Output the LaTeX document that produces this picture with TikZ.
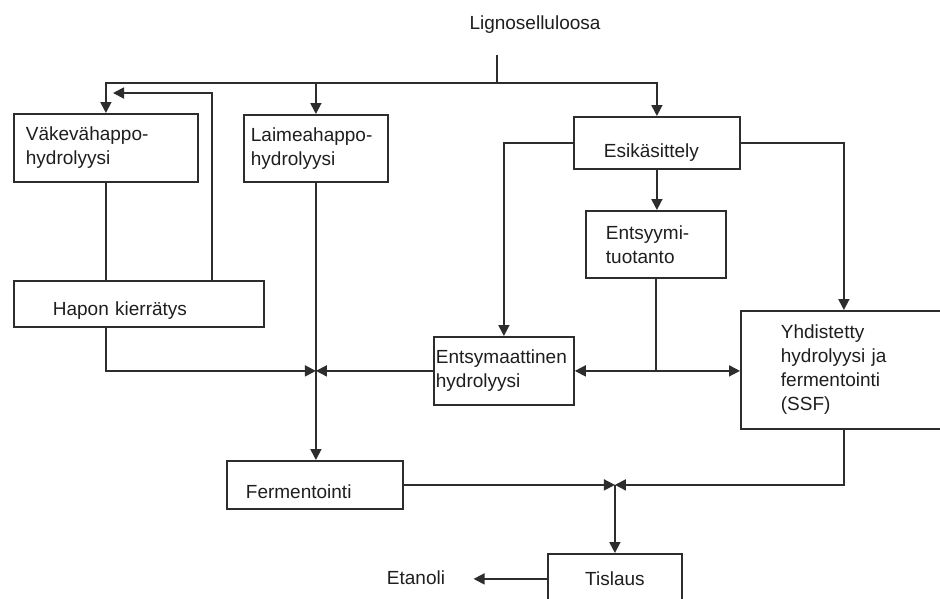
\documentclass[tikz,border=0pt]{standalone}
\usepackage{fontspec}
\setmainfont{Liberation Sans}
\usetikzlibrary{arrows.meta,positioning,calc}
\definecolor{linecolor}{RGB}{45,45,45}
\definecolor{textcolor}{RGB}{30,30,30}
\tikzset{
procbox/.style={draw=linecolor, line width=1.8pt, anchor=north west, align=left, inner sep=0pt, text=textcolor},
link/.style={draw=linecolor, line width=1.8pt},
flow/.style={link, -{Triangle[length=11pt,width=11pt]}}
}
\begin{document}
\begin{tikzpicture}[x=1pt,y=-1pt,font=\fontsize{19}{24}\selectfont]
\useasboundingbox (0,0) rectangle (940,598);

\node[text=textcolor] (lig) at (535,25) {Lignoselluloosa};
\node[procbox, minimum width=184, minimum height=68, text width=160] (vah) at (13,113) {Väkevähappo-\\hydrolyysi};
\node[procbox, minimum width=144, minimum height=67, text width=130] (lah) at (243,114) {Laimeahappo-\\hydrolyysi};
\node[procbox, minimum width=166, minimum height=52, text width=142, text height=34pt, text depth=4pt] (esi) at (573,116) {\hspace*{18pt}Esikäsittely};
\node[procbox, minimum width=140, minimum height=67, text width=100] (ents) at (585,210) {Entsyymi-\\tuotanto};
\node[procbox, minimum width=250, minimum height=46, text width=172, text height=28pt, text depth=4pt] (hap) at (13,280) {Hapon kierrätys};
\node[procbox, minimum width=140, minimum height=68, text width=136] (enz) at (433,336) {Entsymaattinen\\hydrolyysi};
\node[procbox, minimum width=206, minimum height=118, text width=126] (yhd) at (740,310) {Yhdistetty\\hydrolyysi ja\\fermentointi\\(SSF)};
\node[procbox, minimum width=176, minimum height=48, text width=138, text height=28pt, text depth=0pt] (fer) at (226,460) {Fermentointi};
\node[procbox, minimum width=134, minimum height=50] (tis) at (547,553) {Tislaus};
\node[text=textcolor] (eta) at (416,578) {Etanoli};

\coordinate (split) at (497,55);
\coordinate (bus) at (497,83);
\coordinate (ret) at (113,93);
\coordinate (j1) at (lah.south |- enz.west);
\coordinate (j2) at (ents.south |- enz.east);
\coordinate (j3) at (tis.north |- fer.east);
\coordinate (out) at ($(eta.east)+(25,0)$);

\draw[link] (split) -- (bus);
\draw[flow] (bus) -| (vah.north);
\draw[flow] (bus) -| (lah.north);
\draw[flow] (bus) -| (esi.north);
\draw[flow] (hap.north west) ++(199,0) |- (ret);
\draw[link] (vah.south) -- (vah.south |- hap.north);
\draw[flow] (vah.south |- hap.south) |- (j1);
\draw[flow] (enz.west) -- (j1);
\draw[flow] (lah.south) -- (lah.south |- fer.north);
\draw[flow] (esi.west) -| (enz.north);
\draw[flow] (esi.east) -| (yhd.north);
\draw[flow] (esi.south) -- (esi.south |- ents.north);
\draw[link] (ents.south) -- (j2);
\draw[flow] (j2) -- (enz.east);
\draw[flow] (j2) -- (j2 -| yhd.west);
\draw[flow] (fer.east) -- (j3);
\draw[flow] (yhd.south) |- (j3);
\draw[flow] (j3) -- (tis.north);
\draw[flow] (tis.west) -- (out |- tis.west);
\end{tikzpicture}
\end{document}
